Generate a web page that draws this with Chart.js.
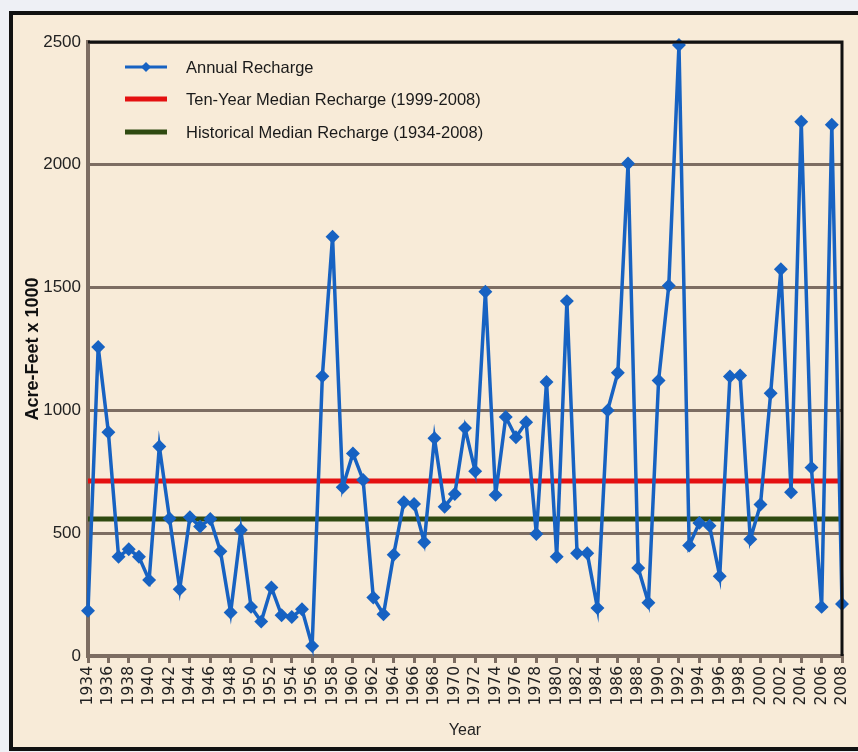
<!DOCTYPE html>
<html>
<head>
<meta charset="utf-8">
<script src="https://cdn.jsdelivr.net/npm/chart.js@4.4.0/dist/chart.umd.min.js"></script>
<style>
  body { margin: 0; background: #eef0f5; }
  #frame {
    position: absolute; left: 9px; top: 11px; width: 860px; height: 732px;
    border: 4px solid #111; background: #f8ebd8;
  }
  #wrap { position: absolute; left: 0; top: 0; width: 858px; height: 752px; }
</style>
</head>
<body>
<div id="frame"></div>
<div id="wrap"><canvas id="rechargeChart" width="858" height="752"></canvas></div>
<script>
const years = [];
for (let y = 1934; y <= 2008; y++) years.push(y);

const annualRecharge = [
  184, 1258, 911, 404, 435, 404, 309, 853, 560, 272,
  565, 527, 558, 426, 177, 513, 200, 140, 279, 166,
  159, 190, 41, 1139, 1707, 687, 825, 717, 238, 170,
  412, 626, 619, 463, 887, 608, 660, 928, 752, 1483,
  656, 973, 891, 952, 497, 1116, 404, 1445, 418, 418,
  195, 1000, 1153, 2005, 358, 217, 1122, 1508, 2488, 450,
  542, 530, 325, 1138, 1142, 475, 617, 1070, 1575, 667,
  2175, 767, 200, 2163, 212
];

const tenYearMedian = 713;
const historicalMedian = 558;

const seriesLabels = [
  "Annual Recharge",
  "Ten-Year Median Recharge (1999-2008)",
  "Historical Median Recharge (1934-2008)"
];

const gridColor = "#7d6d62";
const sans = "'Liberation Sans', Arial, sans-serif";

function annualPoints() {
  const pts = [];
  for (let i = 0; i < years.length; i++) {
    pts.push({ x: years[i], y: annualRecharge[i] });
  }
  return pts;
}

// legend drawn inside the plot, top-left
const insideLegend = {
  id: "insideLegend",
  afterDatasetsDraw(chart) {
    const ctx = chart.ctx;
    const area = chart.chartArea;
    const rows = [25, 57, 90];
    ctx.save();
    ctx.font = "16.5px " + sans;
    ctx.textBaseline = "middle";
    chart.data.datasets.forEach(function (ds, i) {
      const y = area.top + rows[i];
      const x0 = area.left + 37;
      const x1 = area.left + 79;
      ctx.strokeStyle = ds.borderColor;
      ctx.lineWidth = i === 0 ? 3 : 5;
      ctx.beginPath();
      ctx.moveTo(x0, y);
      ctx.lineTo(x1, y);
      ctx.stroke();
      if (i === 0) {
        ctx.fillStyle = ds.borderColor;
        ctx.beginPath();
        ctx.moveTo((x0 + x1) / 2, y - 5);
        ctx.lineTo((x0 + x1) / 2 + 5, y);
        ctx.lineTo((x0 + x1) / 2, y + 5);
        ctx.lineTo((x0 + x1) / 2 - 5, y);
        ctx.closePath();
        ctx.fill();
      }
      ctx.fillStyle = "#1a1a1a";
      ctx.fillText(ds.label, area.left + 98, y + 1);
    });
    ctx.restore();
  }
};

// black top and right edges of the plot box
const plotFrame = {
  id: "plotFrame",
  afterDraw(chart) {
    const ctx = chart.ctx;
    const a = chart.chartArea;
    ctx.save();
    ctx.strokeStyle = "#111";
    ctx.lineWidth = 3;
    ctx.beginPath();
    ctx.moveTo(a.left, a.top);
    ctx.lineTo(a.right, a.top);
    ctx.lineTo(a.right, a.bottom);
    ctx.stroke();
    ctx.restore();
  }
};

new Chart(document.querySelector("#rechargeChart").getContext("2d"), {
  type: "line",
  data: {
    datasets: [
      {
        label: seriesLabels[0],
        data: annualPoints(),
        borderColor: "#1762c2",
        backgroundColor: "#1762c2",
        borderWidth: 3.5,
        pointStyle: "rectRot",
        pointRadius: 4.5,
        pointHoverRadius: 4.5,
        tension: 0,
        clip: false,
      },
      {
        label: seriesLabels[1],
        data: [{ x: years[0], y: tenYearMedian }, { x: years[years.length - 1], y: tenYearMedian }],
        borderColor: "#e41010",
        borderWidth: 5,
        pointRadius: 0,
      },
      {
        label: seriesLabels[2],
        data: [{ x: years[0], y: historicalMedian }, { x: years[years.length - 1], y: historicalMedian }],
        borderColor: "#2f4a10",
        borderWidth: 5,
        pointRadius: 0,
      },
    ],
  },
  options: {
    responsive: false,
    animation: false,
    layout: { padding: { top: 42, right: 16, left: 0, bottom: 0 } },
    plugins: {
      legend: { display: false },
      tooltip: { enabled: false },
    },
    scales: {
      x: {
        type: "linear",
        min: 1934,
        max: 2008,
        afterFit: function (s) {
          s.height = 96;
          s.paddingLeft = 0;
          s.paddingRight = 0;
        },
        border: { display: true, color: gridColor, width: 4 },
        grid: { drawOnChartArea: false, drawTicks: true, tickLength: 7, color: gridColor, lineWidth: 3 },
        ticks: {
          stepSize: 2,
          minRotation: 90,
          maxRotation: 90,
          autoSkip: false,
          padding: 3,
          color: "#222",
          font: { family: "'DejaVu Sans', sans-serif", size: 15.5 },
          callback: function (v) { return String(v); },
        },
        title: {
          display: true,
          text: "Year",
          color: "#222",
          padding: { top: 6, bottom: 12 },
          font: { family: sans, size: 16 },
        },
      },
      y: {
        min: 0,
        max: 2500,
        afterFit: function (s) { s.width = 88; },
        border: { display: true, color: gridColor, width: 4 },
        grid: { color: gridColor, lineWidth: 3, drawTicks: false },
        ticks: {
          stepSize: 500,
          padding: 7,
          color: "#222",
          font: { family: sans, size: 17 },
          callback: function (v) { return String(v); },
        },
        title: {
          display: true,
          text: "Acre-Feet x 1000",
          color: "#111",
          padding: { top: 22, bottom: 0 },
          font: { family: sans, size: 18, weight: "bold" },
        },
      },
    },
  },
  plugins: [insideLegend, plotFrame],
});
</script>
</body>
</html>
